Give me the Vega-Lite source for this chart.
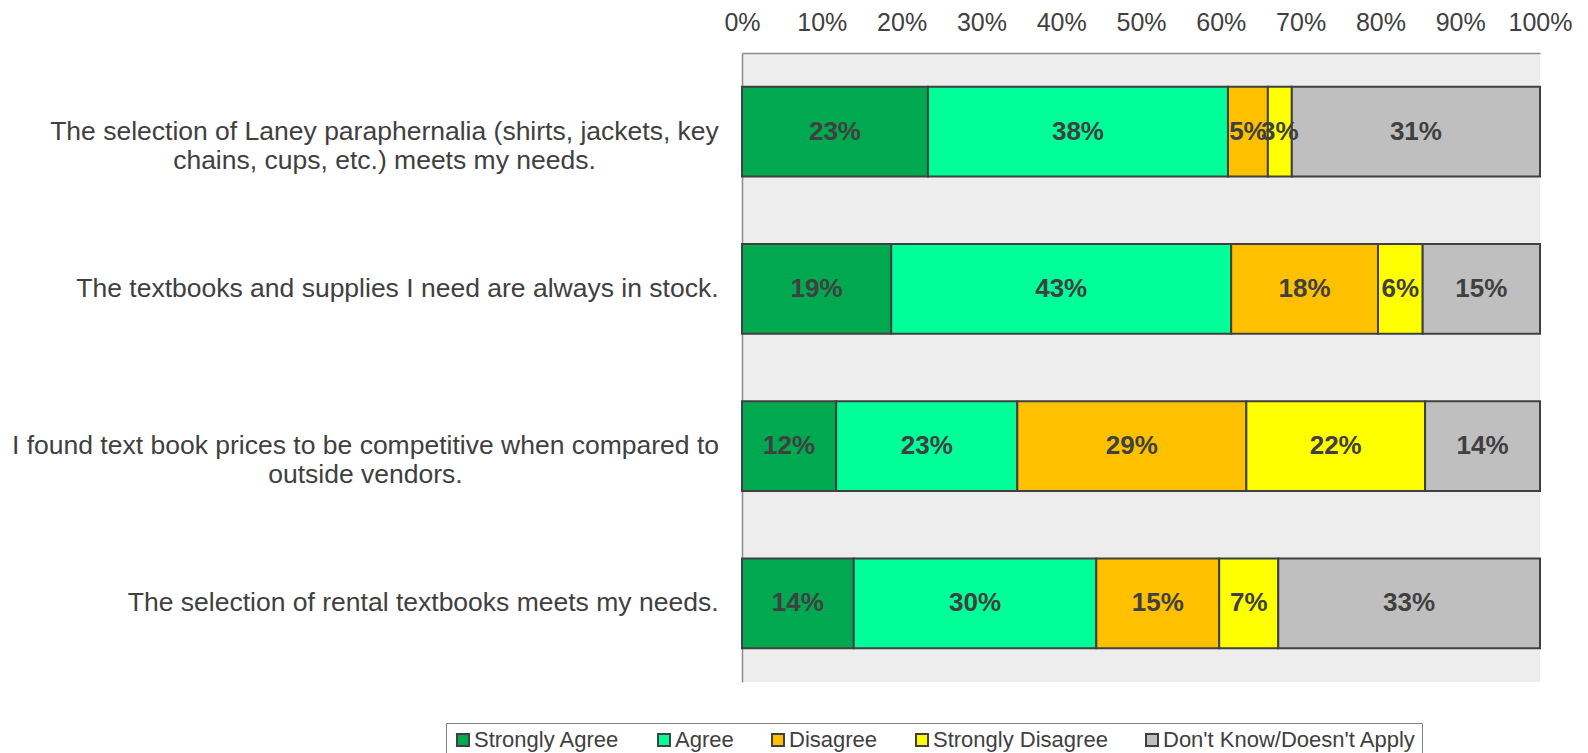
{
  "$schema": "https://vega.github.io/schema/vega-lite/v6.json",
  "width": 798,
  "height": 629,
  "autosize": {"type": "none"},
  "padding": {"left": 742, "top": 53, "right": 48, "bottom": 71},
  "background": "white",
  "config": {
    "view": {"fill": "#EDEDED", "stroke": null},
    "font": "Liberation Sans"
  },
  "data": {
    "values": [
      {"q": "The selection of Laney paraphernalia (shirts, jackets, key\nchains, cups, etc.) meets my needs.", "cat": "Strongly Agree", "o": 1, "v": 0.233},
      {"q": "The selection of Laney paraphernalia (shirts, jackets, key\nchains, cups, etc.) meets my needs.", "cat": "Agree", "o": 2, "v": 0.376},
      {"q": "The selection of Laney paraphernalia (shirts, jackets, key\nchains, cups, etc.) meets my needs.", "cat": "Disagree", "o": 3, "v": 0.050},
      {"q": "The selection of Laney paraphernalia (shirts, jackets, key\nchains, cups, etc.) meets my needs.", "cat": "Strongly Disagree", "o": 4, "v": 0.030},
      {"q": "The selection of Laney paraphernalia (shirts, jackets, key\nchains, cups, etc.) meets my needs.", "cat": "Don't Know/Doesn't Apply", "o": 5, "v": 0.311},
      {"q": "The textbooks and supplies I need are always in stock.", "cat": "Strongly Agree", "o": 1, "v": 0.187},
      {"q": "The textbooks and supplies I need are always in stock.", "cat": "Agree", "o": 2, "v": 0.426},
      {"q": "The textbooks and supplies I need are always in stock.", "cat": "Disagree", "o": 3, "v": 0.184},
      {"q": "The textbooks and supplies I need are always in stock.", "cat": "Strongly Disagree", "o": 4, "v": 0.056},
      {"q": "The textbooks and supplies I need are always in stock.", "cat": "Don't Know/Doesn't Apply", "o": 5, "v": 0.147},
      {"q": "I found text book prices to be competitive when compared to\noutside vendors.", "cat": "Strongly Agree", "o": 1, "v": 0.118},
      {"q": "I found text book prices to be competitive when compared to\noutside vendors.", "cat": "Agree", "o": 2, "v": 0.227},
      {"q": "I found text book prices to be competitive when compared to\noutside vendors.", "cat": "Disagree", "o": 3, "v": 0.287},
      {"q": "I found text book prices to be competitive when compared to\noutside vendors.", "cat": "Strongly Disagree", "o": 4, "v": 0.224},
      {"q": "I found text book prices to be competitive when compared to\noutside vendors.", "cat": "Don't Know/Doesn't Apply", "o": 5, "v": 0.144},
      {"q": "The selection of rental textbooks meets my needs.", "cat": "Strongly Agree", "o": 1, "v": 0.140},
      {"q": "The selection of rental textbooks meets my needs.", "cat": "Agree", "o": 2, "v": 0.304},
      {"q": "The selection of rental textbooks meets my needs.", "cat": "Disagree", "o": 3, "v": 0.154},
      {"q": "The selection of rental textbooks meets my needs.", "cat": "Strongly Disagree", "o": 4, "v": 0.074},
      {"q": "The selection of rental textbooks meets my needs.", "cat": "Don't Know/Doesn't Apply", "o": 5, "v": 0.328}
    ]
  },
  "transform": [
    {"stack": "v", "groupby": ["q"], "sort": [{"field": "o", "order": "ascending"}], "as": ["v0", "v1"], "offset": "normalize"},
    {"calculate": "(datum.v0 + datum.v1) / 2", "as": "mid"}
  ],
  "encoding": {
    "y": {
      "field": "q",
      "type": "nominal",
      "sort": [
        "The selection of Laney paraphernalia (shirts, jackets, key\nchains, cups, etc.) meets my needs.",
        "The textbooks and supplies I need are always in stock.",
        "I found text book prices to be competitive when compared to\noutside vendors.",
        "The selection of rental textbooks meets my needs."
      ],
      "scale": {"paddingInner": 0.428, "paddingOuter": 0.214},
      "axis": {
        "title": null,
        "ticks": false,
        "tickSize": 0,
        "labelPadding": {
          "condition": [
            {"test": "indexof(datum.value, 'Laney') >= 0", "value": 358},
            {"test": "indexof(datum.value, 'competitive') >= 0", "value": 377}
          ],
          "value": 24
        },
        "labelAlign": {
          "condition": {"test": "indexof(datum.value, '\\n') >= 0", "value": "center"},
          "value": "right"
        },
        "labelFontSize": 26.5,
        "labelColor": "#404040",
        "labelLimit": 0,
        "labelExpr": "split(datum.label, '\\n')",
        "labelLineHeight": 29,
        "domainColor": "#8C8C8C",
        "domainWidth": 1.5,
        "grid": false
      }
    }
  },
  "layer": [
    {
      "mark": {"type": "bar", "stroke": "#404040", "strokeWidth": 2},
      "encoding": {
        "x": {
          "field": "v0",
          "type": "quantitative",
          "scale": {"domain": [0, 1], "nice": false},
          "axis": {
            "orient": "top",
            "format": ".0%",
            "values": [0, 0.1, 0.2, 0.3, 0.4, 0.5, 0.6, 0.7, 0.8, 0.9, 1],
            "title": null,
            "grid": false,
            "ticks": false,
            "tickSize": 0,
            "labelPadding": 23,
            "labelBaseline": "alphabetic",
            "labelFontSize": 25,
            "labelColor": "#404040",
            "labelFlush": false,
            "labelOverlap": false,
            "domainColor": "#8C8C8C",
            "domainWidth": 1.5
          }
        },
        "x2": {"field": "v1"},
        "color": {
          "field": "cat",
          "type": "nominal",
          "scale": {
            "domain": ["Strongly Agree", "Agree", "Disagree", "Strongly Disagree", "Don't Know/Doesn't Apply"],
            "range": ["#00A84F", "#00FF99", "#FFC000", "#FFFF00", "#BFBFBF"]
          },
          "legend": {
            "orient": "none",
            "legendX": -296,
            "legendY": 670,
            "direction": "horizontal",
            "columns": 5,
            "title": null,
            "symbolType": "square",
            "symbolSize": 144,
            "symbolStrokeColor": "#404040",
            "symbolStrokeWidth": 2,
            "symbolOpacity": 1,
            "labelFontSize": 22,
            "labelColor": "#404040",
            "labelOffset": 0,
            "labelLimit": 0,
            "columnPadding": 33,
            "padding": 6,
            "strokeColor": "#808080",
            "fillColor": "white"
          }
        }
      }
    },
    {
      "mark": {"type": "text", "fontSize": 26, "fontWeight": "bold", "color": "#404040"},
      "encoding": {
        "x": {"field": "mid", "type": "quantitative"},
        "text": {"field": "v", "type": "quantitative", "format": ".0%"}
      }
    }
  ]
}
